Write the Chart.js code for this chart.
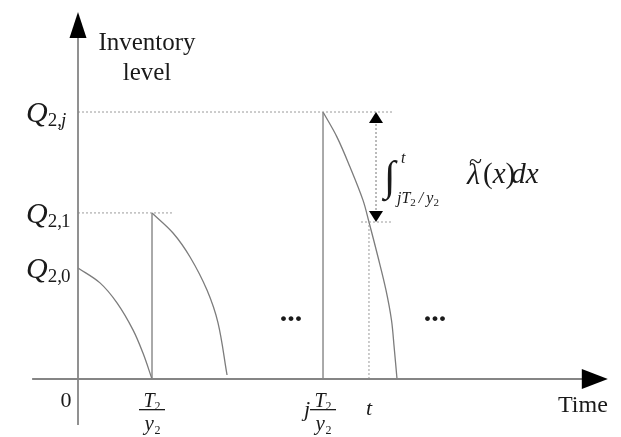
<!DOCTYPE html>
<html>
<head>
<meta charset="utf-8">
<script src="https://cdn.jsdelivr.net/npm/chart.js@4.4.1/dist/chart.umd.min.js"></script>
<style>
  html, body { margin: 0; padding: 0; background: #fff; }
  #wrap { width: 621px; height: 437px; position: relative; }
</style>
</head>
<body>
<div id="wrap"><canvas id="inv"></canvas></div>
<script>
// Time in units of one replenishment cycle (T2/y2), inventory in % of Q2,j
const PERIOD = 1;        // T2 / y2
const J_START = 3.311;   // j * T2 / y2
const T_NOW = 3.932;     // t
const Q_LEVELS = [41.6, 62.2, 100];        // Q2,0  Q2,1  Q2,j
const Q_SUBS = ['2,0', '2,1', '2,j'];
const Q_AT_T = 58.8;                       // stock left at t

// depletion curves (time, level)
const cycle0X = [0, 0.297, 0.527, 0.743, 0.878, 1.0];
const cycle0Y = [41.6, 36.0, 28.5, 18.4, 9.7, 0];
const cycle1X = [1.0, 1.284, 1.514, 1.743, 1.892, 2.014];
const cycle1Y = [62.2, 54.7, 45.7, 33.3, 21.0, 1.5];
const cycleJX = [3.311, 3.5, 3.676, 3.851, 3.932, 4.054, 4.162, 4.236, 4.272, 4.311];
const cycleJY = [100, 90.6, 79.4, 67.0, 58.8, 45.7, 33.3, 22.1, 12.0, 0];

// axis extents
const X_AXIS = [-0.62, 7.16];
const Y_AXIS = [-17.2, 137.5];
const GUIDE_END = 4.257;     // right end of the Q2,j / t guides
const GUIDE1_END = 1.27;     // right end of the Q2,1 guide
const ARROW_X = 4.027;       // measuring arrow between Q2,j and level at t

const pts = (xs, ys) => xs.map((v, i) => ({ x: v, y: ys[i] }));
const seg = (x0, y0, x1, y1) => [{ x: x0, y: y0 }, { x: x1, y: y1 }];

const SERIF = '"Liberation Serif", "DejaVu Serif", serif';
const AXIS = '#858585', CURVE = '#7c7c7c', DOT = '#9a9a9a';

function line(data, color, width, dash, tension) {
  return {
    data, borderColor: color, borderWidth: width, borderDash: dash || [],
    pointRadius: 0, showLine: true, fill: false, tension: tension || 0
  };
}

const datasets = [
  line(seg(X_AXIS[0], 0, X_AXIS[1] - 0.3, 0), AXIS, 1.8),
  line(seg(0, Y_AXIS[0], 0, Y_AXIS[1] - 9.5), AXIS, 1.8),
  line(seg(0, Q_LEVELS[2], GUIDE_END, Q_LEVELS[2]), DOT, 1, [2, 2]),
  line(seg(0, Q_LEVELS[1], GUIDE1_END, Q_LEVELS[1]), DOT, 1, [2, 2]),
  line(seg(3.824, Q_AT_T, GUIDE_END, Q_AT_T), DOT, 1, [2, 2]),
  line(seg(T_NOW, 0, T_NOW, Q_AT_T), DOT, 1, [2, 2]),
  line(seg(ARROW_X, Q_AT_T + 3, ARROW_X, Q_LEVELS[2] - 3), '#777', 1, [2, 2]),
  line(seg(PERIOD, 0, PERIOD, Q_LEVELS[1]), CURVE, 1.3),
  line(seg(J_START, 0, J_START, Q_LEVELS[2]), CURVE, 1.3),
  line(pts(cycle0X, cycle0Y), CURVE, 1.3, null, 0.35),
  line(pts(cycle1X, cycle1Y), CURVE, 1.3, null, 0.35),
  line(pts(cycleJX, cycleJY), CURVE, 1.3, null, 0.35)
];

function tri(ctx, a, b, c) {
  ctx.beginPath();
  ctx.moveTo(a[0], a[1]); ctx.lineTo(b[0], b[1]); ctx.lineTo(c[0], c[1]);
  ctx.closePath(); ctx.fill();
}

const annotate = {
  id: 'annotate',
  afterDatasetsDraw(chart) {
    const { ctx, scales: { x, y } } = chart;
    const px = v => x.getPixelForValue(v), py = v => y.getPixelForValue(v);
    ctx.save();
    ctx.fillStyle = '#000';

    // arrowheads
    const x0 = px(0), y0 = py(0);
    tri(ctx, [x0, py(Y_AXIS[1])], [x0 - 8.5, py(Y_AXIS[1]) + 26], [x0 + 8.5, py(Y_AXIS[1]) + 26]);
    tri(ctx, [px(X_AXIS[1]), y0], [px(X_AXIS[1]) - 26, y0 - 10], [px(X_AXIS[1]) - 26, y0 + 10]);
    const ax = px(ARROW_X);
    tri(ctx, [ax, py(Q_LEVELS[2])], [ax - 7, py(Q_LEVELS[2]) + 11], [ax + 7, py(Q_LEVELS[2]) + 11]);
    tri(ctx, [ax, py(Q_AT_T)], [ax - 7, py(Q_AT_T) - 11], [ax + 7, py(Q_AT_T) - 11]);

    ctx.fillStyle = '#1a1a1a';
    ctx.textBaseline = 'alphabetic';

    // axis titles
    ctx.font = '25px ' + SERIF;
    ctx.textAlign = 'center';
    ctx.fillText('Inventory', 147, 50);
    ctx.fillText('level', 147, 80);
    ctx.font = '24px ' + SERIF;
    ctx.textAlign = 'right';
    ctx.fillText('Time', px(X_AXIS[1]), y0 + 33);
    ctx.font = '22px ' + SERIF;
    ctx.textAlign = 'center';
    ctx.fillText('0', x0 - 12, y0 + 28);

    // Q levels on the vertical axis
    ctx.textAlign = 'left';
    Q_LEVELS.forEach((q, i) => {
      const yb = py(q) + 10;
      ctx.font = 'italic 30px ' + SERIF;
      ctx.fillText('Q', 26, yb);
      const w = ctx.measureText('Q').width;
      const parts = Q_SUBS[i].split(',');
      ctx.font = '19px ' + SERIF;
      const s1 = parts[0] + ',';
      ctx.fillText(s1, 26 + w, yb + 4);
      const w1 = ctx.measureText(s1).width;
      ctx.font = (parts[1] === 'j' ? 'italic ' : '') + '19px ' + SERIF;
      ctx.fillText(parts[1], 26 + w + w1 - 1, yb + 4);
    });

    // fractions T2/y2 under the time axis
    function frac(cx) {
      ctx.textAlign = 'left';
      ctx.font = 'italic 20px ' + SERIF;
      const tw = ctx.measureText('T').width;
      ctx.font = '12px ' + SERIF;
      const sw = ctx.measureText('2').width;
      const left = cx - (tw + sw) / 2;
      ctx.font = 'italic 20px ' + SERIF;
      ctx.fillText('T', left, y0 + 28);
      ctx.font = '12px ' + SERIF;
      ctx.fillText('2', left + tw, y0 + 31);
      ctx.fillRect(cx - 13, y0 + 30, 26, 1.3);
      ctx.font = 'italic 21px ' + SERIF;
      ctx.fillText('y', left + 1, y0 + 51);
      ctx.font = '12px ' + SERIF;
      ctx.fillText('2', left + 11, y0 + 55);
    }
    frac(px(PERIOD));
    frac(px(J_START));
    ctx.font = 'italic 22px ' + SERIF;
    ctx.textAlign = 'center';
    ctx.fillText('j', px(J_START) - 16, y0 + 37);
    ctx.fillText('t', px(T_NOW), y0 + 36);

    // ellipses between cycles
    ctx.font = 'bold 30px ' + SERIF;
    ctx.fillText('...', 291, 321);
    ctx.fillText('...', 435, 321);

    // integral label next to the measuring arrow
    ctx.textAlign = 'left';
    ctx.font = 'italic 42px ' + SERIF;
    ctx.fillText('\u222B', 384, 190);
    ctx.font = 'italic 16px ' + SERIF;
    ctx.fillText('t', 401, 163);
    let lx = 397;
    ctx.fillText('j', lx, 203); lx += ctx.measureText('j').width;
    ctx.fillText('T', lx, 203); lx += ctx.measureText('T').width;
    ctx.font = '11px ' + SERIF;
    ctx.fillText('2', lx, 206); lx += ctx.measureText('2').width + 3;
    ctx.font = 'italic 16px ' + SERIF;
    ctx.fillText('/', lx, 203); lx += ctx.measureText('/').width + 3;
    ctx.fillText('y', lx, 203); lx += ctx.measureText('y').width;
    ctx.font = '11px ' + SERIF;
    ctx.fillText('2', lx, 206);

    ctx.font = 'italic 30px ' + SERIF;
    let ix = 467;
    ctx.fillText('\u03BB', ix, 184);
    ctx.font = '24px ' + SERIF;
    ctx.fillText('~', ix + 2, 169);
    ix += 16;
    ctx.font = '29px ' + SERIF;
    ctx.fillText('(', ix, 183); ix += ctx.measureText('(').width;
    ctx.font = 'italic 29px ' + SERIF;
    ctx.fillText('x', ix, 183); ix += ctx.measureText('x').width;
    ctx.font = '29px ' + SERIF;
    ctx.fillText(')', ix, 183); ix += ctx.measureText(')').width - 4;
    ctx.font = 'italic 29px ' + SERIF;
    ctx.fillText('dx', ix, 183);
    ctx.restore();
  }
};

new Chart(document.getElementById('inv'), {
  type: 'scatter',
  data: { datasets },
  plugins: [annotate],
  options: {
    responsive: true,
    maintainAspectRatio: false,
    animation: false,
    layout: { padding: 0 },
    plugins: { legend: { display: false }, tooltip: { enabled: false } },
    scales: {
      x: { type: 'linear', display: false, min: -1.0541, max: 7.3378 },
      y: { type: 'linear', display: false, min: -21.72, max: 141.95 }
    }
  }
});
</script>
</body>
</html>
